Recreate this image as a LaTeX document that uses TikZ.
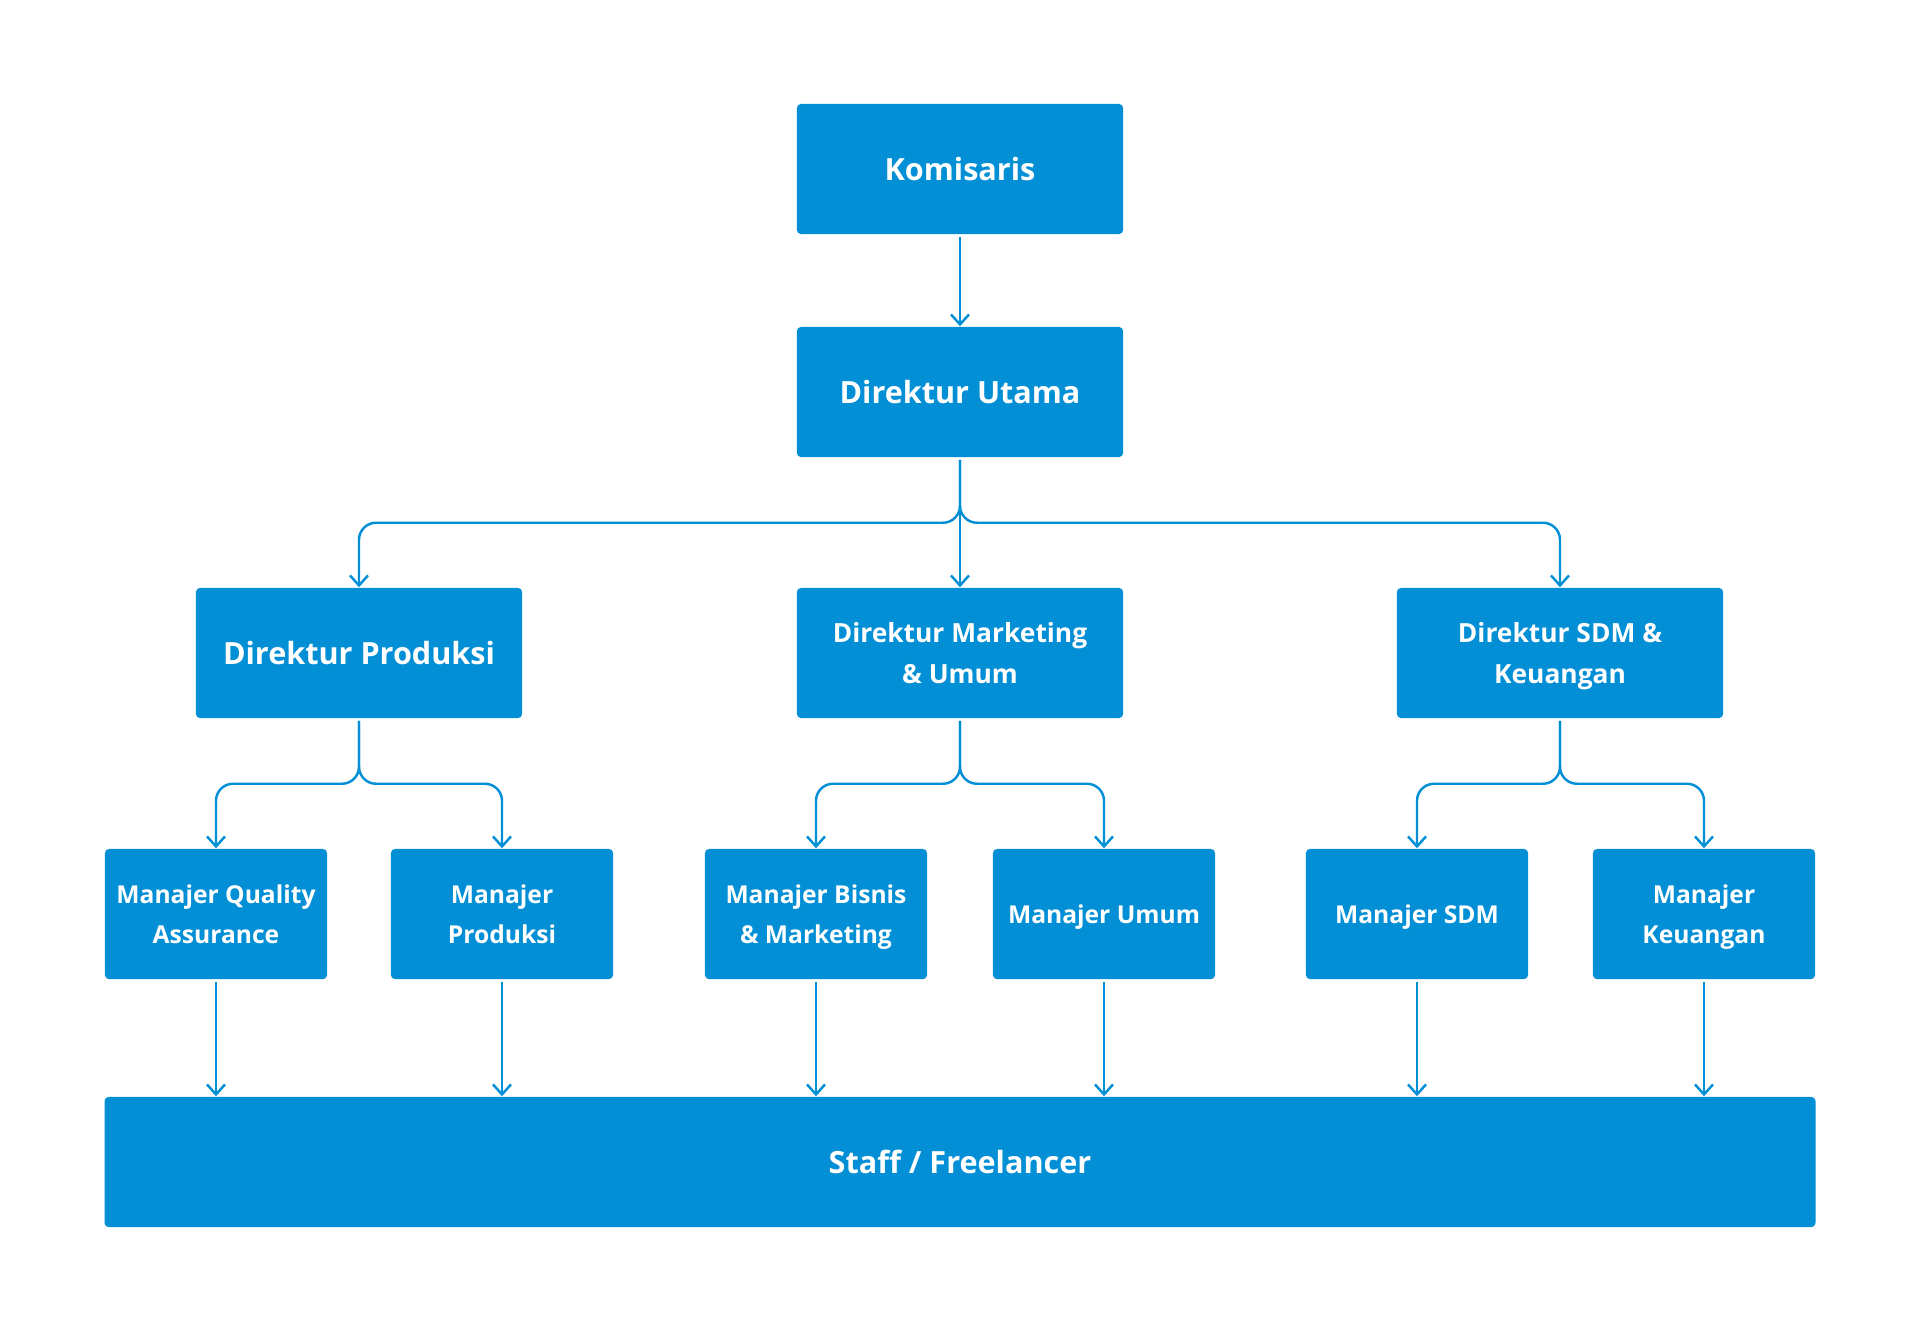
\documentclass[tikz,border=0pt]{standalone}
\usepackage{fontspec}
\setmainfont{Open Sans}
\usepackage{tikz}
\usetikzlibrary{arrows.meta}
\definecolor{orgblue}{HTML}{038FD6}

\begin{document}
\begin{tikzpicture}[x=0.01cm, y=-0.01cm,
    box/.style={fill=orgblue, rounded corners=0.04cm, text=white, align=center,
      inner sep=0pt, text depth=0pt, font=\bfseries\fontsize{8.7}{12}\selectfont},
    topbox/.style={box, minimum width=3.26cm, minimum height=1.3cm},
    twoline/.style={font=\bfseries\fontsize{7.5}{11.8}\selectfont},
    mgrbox/.style={box, font=\bfseries\fontsize{7}{11.5}\selectfont,
      minimum width=2.22cm, minimum height=1.3cm},
    link/.style={draw=orgblue, line width=0.7pt, shorten <=0.02cm,
      -{Straight Barb[length=0.1cm,width=0.18cm]}},
    branch/.style={link, rounded corners=0.17cm}]

          \useasboundingbox (0,0) rectangle (1920,1332);

          \node[topbox] (kom) at (960,169) {Komisaris};
          \node[topbox] (dirut) at (960,392) {Direktur Utama};

          \node[topbox] (dirprod) at (359,653) {Direktur Produksi};
          \node[topbox, twoline] (dirmkt) at (960,653) {Direktur Marketing\\\& Umum};
          \node[topbox, twoline] (dirsdm) at (1560,653) {Direktur SDM \&\\Keuangan};

          \node[mgrbox] (mqa) at (216,914) {Manajer Quality\\Assurance};
          \node[mgrbox] (mprod) at (502,914) {Manajer\\Produksi};
          \node[mgrbox] (mbis) at (816,914) {Manajer Bisnis\\\& Marketing};
          \node[mgrbox] (mumum) at (1104,914) {Manajer Umum};
          \node[mgrbox] (msdm) at (1417,914) {Manajer SDM};
          \node[mgrbox] (mkeu) at (1704,914) {Manajer\\Keuangan};

          \node[box, minimum width=17.1cm, minimum height=1.3cm] (staff) at (960,1162) {Staff / Freelancer};

          \draw[link] (kom) -- (dirut);
          \draw[link] (dirut) -- (dirmkt);
          \foreach \side in {dirprod,dirsdm}{
            \draw[branch] (dirut.south) -- ++(0,65) -| (\side.north);
          }

          \foreach \dir/\left/\right in {dirprod/mqa/mprod, dirmkt/mbis/mumum, dirsdm/msdm/mkeu}{
            \draw[branch] (\dir.south) -- ++(0,65) -| (\left.north);
            \draw[branch] (\dir.south) -- ++(0,65) -| (\right.north);
          }

          \foreach \mgr in {mqa,mprod,mbis,mumum,msdm,mkeu}{
            \draw[link] (\mgr.south) -- (\mgr.south |- staff.north);
          }
        \end{tikzpicture}
\end{document}
